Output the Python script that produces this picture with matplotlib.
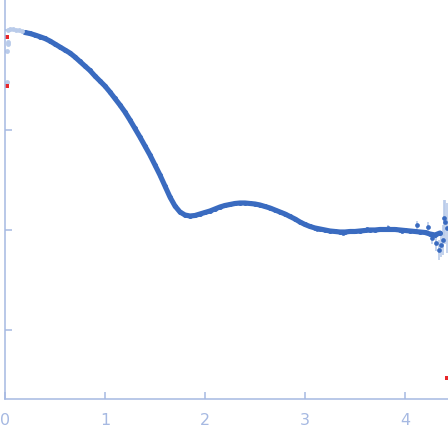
import matplotlib
matplotlib.use("Agg")
import matplotlib.pyplot as plt
import numpy as np

# scattering curve, q in 1/nm, log10 of intensity (arbitrary units)
q = [0.20, 0.25, 0.30, 0.35, 0.40, 0.45, 0.50, 0.55, 0.60, 0.65,
     0.70, 0.75, 0.80, 0.85, 0.90, 0.95, 1.00, 1.05, 1.10, 1.15,
     1.20, 1.25, 1.30, 1.35, 1.40, 1.45, 1.50, 1.55, 1.60, 1.65,
     1.70, 1.75, 1.80, 1.85, 1.90, 1.95, 2.00, 2.05, 2.10, 2.15,
     2.20, 2.25, 2.30, 2.35, 2.40, 2.45, 2.50, 2.55, 2.60, 2.65,
     2.70, 2.75, 2.80, 2.85, 2.90, 2.95, 3.00, 3.05, 3.10, 3.15,
     3.20, 3.25, 3.30, 3.35, 3.40, 3.45, 3.50, 3.55, 3.60, 3.65,
     3.70, 3.75, 3.80, 3.85, 3.90, 3.95, 4.00, 4.05, 4.10, 4.15,
     4.20, 4.25, 4.30, 4.35]
log_i = [-0.025, -0.035, -0.05, -0.067, -0.085, -0.11, -0.14, -0.17, -0.20, -0.23,
         -0.27, -0.315, -0.36, -0.405, -0.46, -0.51, -0.56, -0.62, -0.685, -0.75,
         -0.82, -0.90, -0.985, -1.07, -1.16, -1.25, -1.35, -1.45, -1.56, -1.67,
         -1.76, -1.82, -1.85, -1.86, -1.855, -1.84, -1.825, -1.81, -1.79, -1.77,
         -1.755, -1.745, -1.735, -1.73, -1.73, -1.735, -1.74, -1.75, -1.765, -1.78,
         -1.80, -1.82, -1.84, -1.865, -1.89, -1.92, -1.945, -1.965, -1.98, -1.99,
         -2.00, -2.01, -2.015, -2.02, -2.02, -2.015, -2.015, -2.01, -2.005, -2.00,
         -2.00, -1.995, -1.995, -1.995, -1.995, -2.00, -2.005, -2.01, -2.015, -2.02,
         -2.025, -2.04, -2.05, -2.03]

# scatter around the flat part and the noisy tail
q_tail = [3.12, 3.38, 3.62, 3.83, 3.97, 4.12, 4.23, 4.27, 4.31, 4.34,
          4.36, 4.38, 4.39, 4.40, 4.42]
log_tail = [-1.99, -2.03, -1.99, -1.98, -2.01, -1.95, -1.97, -2.08, -2.13, -2.20,
            -2.15, -2.10, -1.88, -1.92, -1.98]
err_tail = [0.02, 0.02, 0.02, 0.03, 0.03, 0.04, 0.05, 0.06, 0.08, 0.10,
            0.12, 0.15, 0.18, 0.22, 0.25]

# points left out of the fit
q_excl = [0.03, 0.05, 0.08, 0.11, 0.14, 0.17, 0.03, 0.035, 0.025, 0.025]
log_excl = [0.0, 0.005, 0.005, 0.0, -0.005, -0.015, -0.12, -0.14, -0.21, -0.52]

# outliers
q_out = [0.023, 0.023, 4.42]
log_out = [-0.07, -0.56, -3.48]

dark = "#3a6bc0"
light = "#b9cbea"
axcol = "#a6b9e2"

i_tail = np.power(10.0, log_tail)
err_lo = i_tail * (1 - np.power(10.0, -np.array(err_tail)))
err_hi = i_tail * (np.power(10.0, err_tail) - 1)

fig = plt.figure(figsize=(4.48, 4.37), dpi=100)
ax = fig.add_axes([0.011, 0.087, 0.989, 0.913])

ax.errorbar(q_tail, i_tail, yerr=[err_lo, err_hi],
            fmt="none", ecolor=light, elinewidth=1.2)
ax.plot(q, np.power(10.0, log_i), "-", color=dark, lw=3.7, solid_capstyle="round")
ax.plot(q, np.power(10.0, log_i), "o", color=dark, ms=3.6, mew=0)
ax.plot(q_tail, i_tail, "o", color=dark, ms=3.4, mew=0)
ax.plot(q_excl, np.power(10.0, log_excl), "o", color=light, ms=3.5, mew=0)
ax.plot(q_out, np.power(10.0, log_out), "s", color="#e8262a", ms=2.2, mew=0)

ax.set_yscale("log")
ax.set_xlim(0, 4.43)
ax.set_ylim(10 ** -3.69, 10 ** 0.30)
ax.set_xticks([0, 1, 2, 3, 4])
ax.set_yticks([1e-3, 1e-2, 1e-1, 1e0])
ax.yaxis.set_minor_locator(matplotlib.ticker.NullLocator())
ax.set_yticklabels([])

for s in ["top", "right"]:
    ax.spines[s].set_visible(False)
for s in ["left", "bottom"]:
    ax.spines[s].set_color(axcol)
    ax.spines[s].set_linewidth(1.1)
ax.tick_params(axis="both", direction="in", length=5, width=1.1, color=axcol,
               labelcolor=axcol, labelsize=11.5)
ax.tick_params(axis="x", pad=10)
ax.patch.set_alpha(0)

plt.savefig("out.png")
